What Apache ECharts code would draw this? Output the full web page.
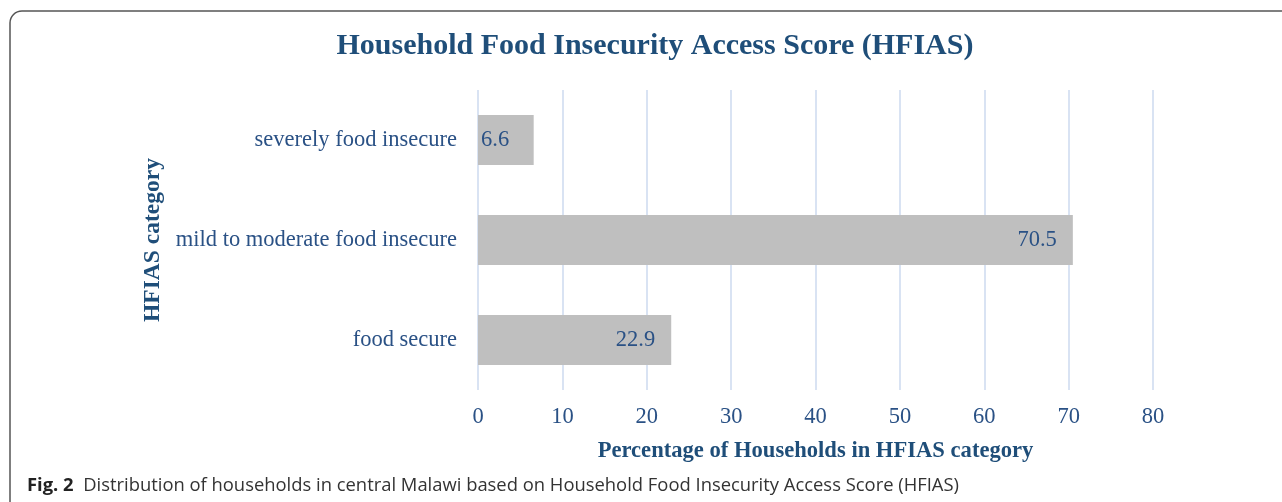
<!DOCTYPE html>
<html>
<head>
<meta charset="utf-8">
<script src="https://cdn.jsdelivr.net/npm/echarts@6/dist/echarts.min.js"></script>
<style>
html,body{margin:0;padding:0;background:#fff;}
#c{width:1282px;height:502px;}
</style>
</head>
<body>
<div id="c"></div>
<script>
const categories = ['food secure', 'mild to moderate food insecure', 'severely food insecure'];
const values = [22.9, 70.5, 6.6];
const xTicks = [0, 10, 20, 30, 40, 50, 60, 70, 80];
const titleText = 'Household Food Insecurity Access Score (HFIAS)';
const xName = 'Percentage of Households in HFIAS category';
const yName = 'HFIAS category';
const captionLabel = 'Fig. 2';
const captionText = 'Distribution of households in central Malawi based on Household Food Insecurity Access Score (HFIAS)';

const blue = '#1F4E79';
const tickBlue = '#2A5185';
const serif = '"Liberation Serif","Times New Roman",serif';

const chart = echarts.init(document.getElementById('c'), null, {renderer: 'canvas'});
chart.setOption({
  backgroundColor: '#fff',
  animation: false,
  title: {
    text: titleText,
    left: 650, top: 26, textAlign: 'center',
    textStyle: {fontFamily: serif, fontWeight: 'bold', fontSize: 30, color: blue}
  },
  graphic: [
    {type: 'rect', shape: {x: 10, y: 11, width: 1290, height: 510, r: 12},
     style: {fill: 'none', stroke: '#555', lineWidth: 1.5}, silent: true},
    {type: 'text', left: 27, top: 477,
     style: {
       text: '{b|' + captionLabel + '}  ' + captionText,
       font: '18.4px "Open Sans", sans-serif', fill: '#333',
       rich: {b: {fontFamily: '"Open Sans", sans-serif', fontWeight: 'bold', fontSize: 18.4, fill: '#222'}}
     }}
  ],
  grid: {left: 478, right: 129, top: 90, bottom: 112, containLabel: false},
  xAxis: {
    type: 'value', min: 0, max: 80, interval: 10,
    name: xName, nameLocation: 'middle', nameGap: 50,
    nameTextStyle: {fontFamily: serif, fontWeight: 'bold', fontSize: 22.6, color: blue},
    axisLine: {show: false}, axisTick: {show: false},
    axisLabel: {fontFamily: serif, fontSize: 22.5, color: tickBlue, margin: 16,
      formatter: v => xTicks.includes(v) ? String(v) : ''},
    splitLine: {show: true, lineStyle: {color: '#D9E3F3', width: 2}}
  },
  yAxis: {
    type: 'category', data: categories,
    name: yName, nameLocation: 'middle', nameRotate: 90, nameGap: 307,
    nameTextStyle: {fontFamily: serif, fontWeight: 'bold', fontSize: 23.5, color: blue},
    axisLine: {show: false}, axisTick: {show: false},
    axisLabel: {fontFamily: serif, fontSize: 22.5, color: tickBlue, margin: 21}
  },
  series: [{
    type: 'bar', barWidth: '50%',
    itemStyle: {color: '#BFBFBF'},
    data: values.map(v => v < 10
      ? {value: v, label: {position: 'insideLeft', distance: 3}}
      : v),
    label: {show: true, position: 'insideRight', distance: 16,
      fontFamily: serif, fontSize: 22.5, color: tickBlue}
  }]
});
</script>
</body>
</html>
